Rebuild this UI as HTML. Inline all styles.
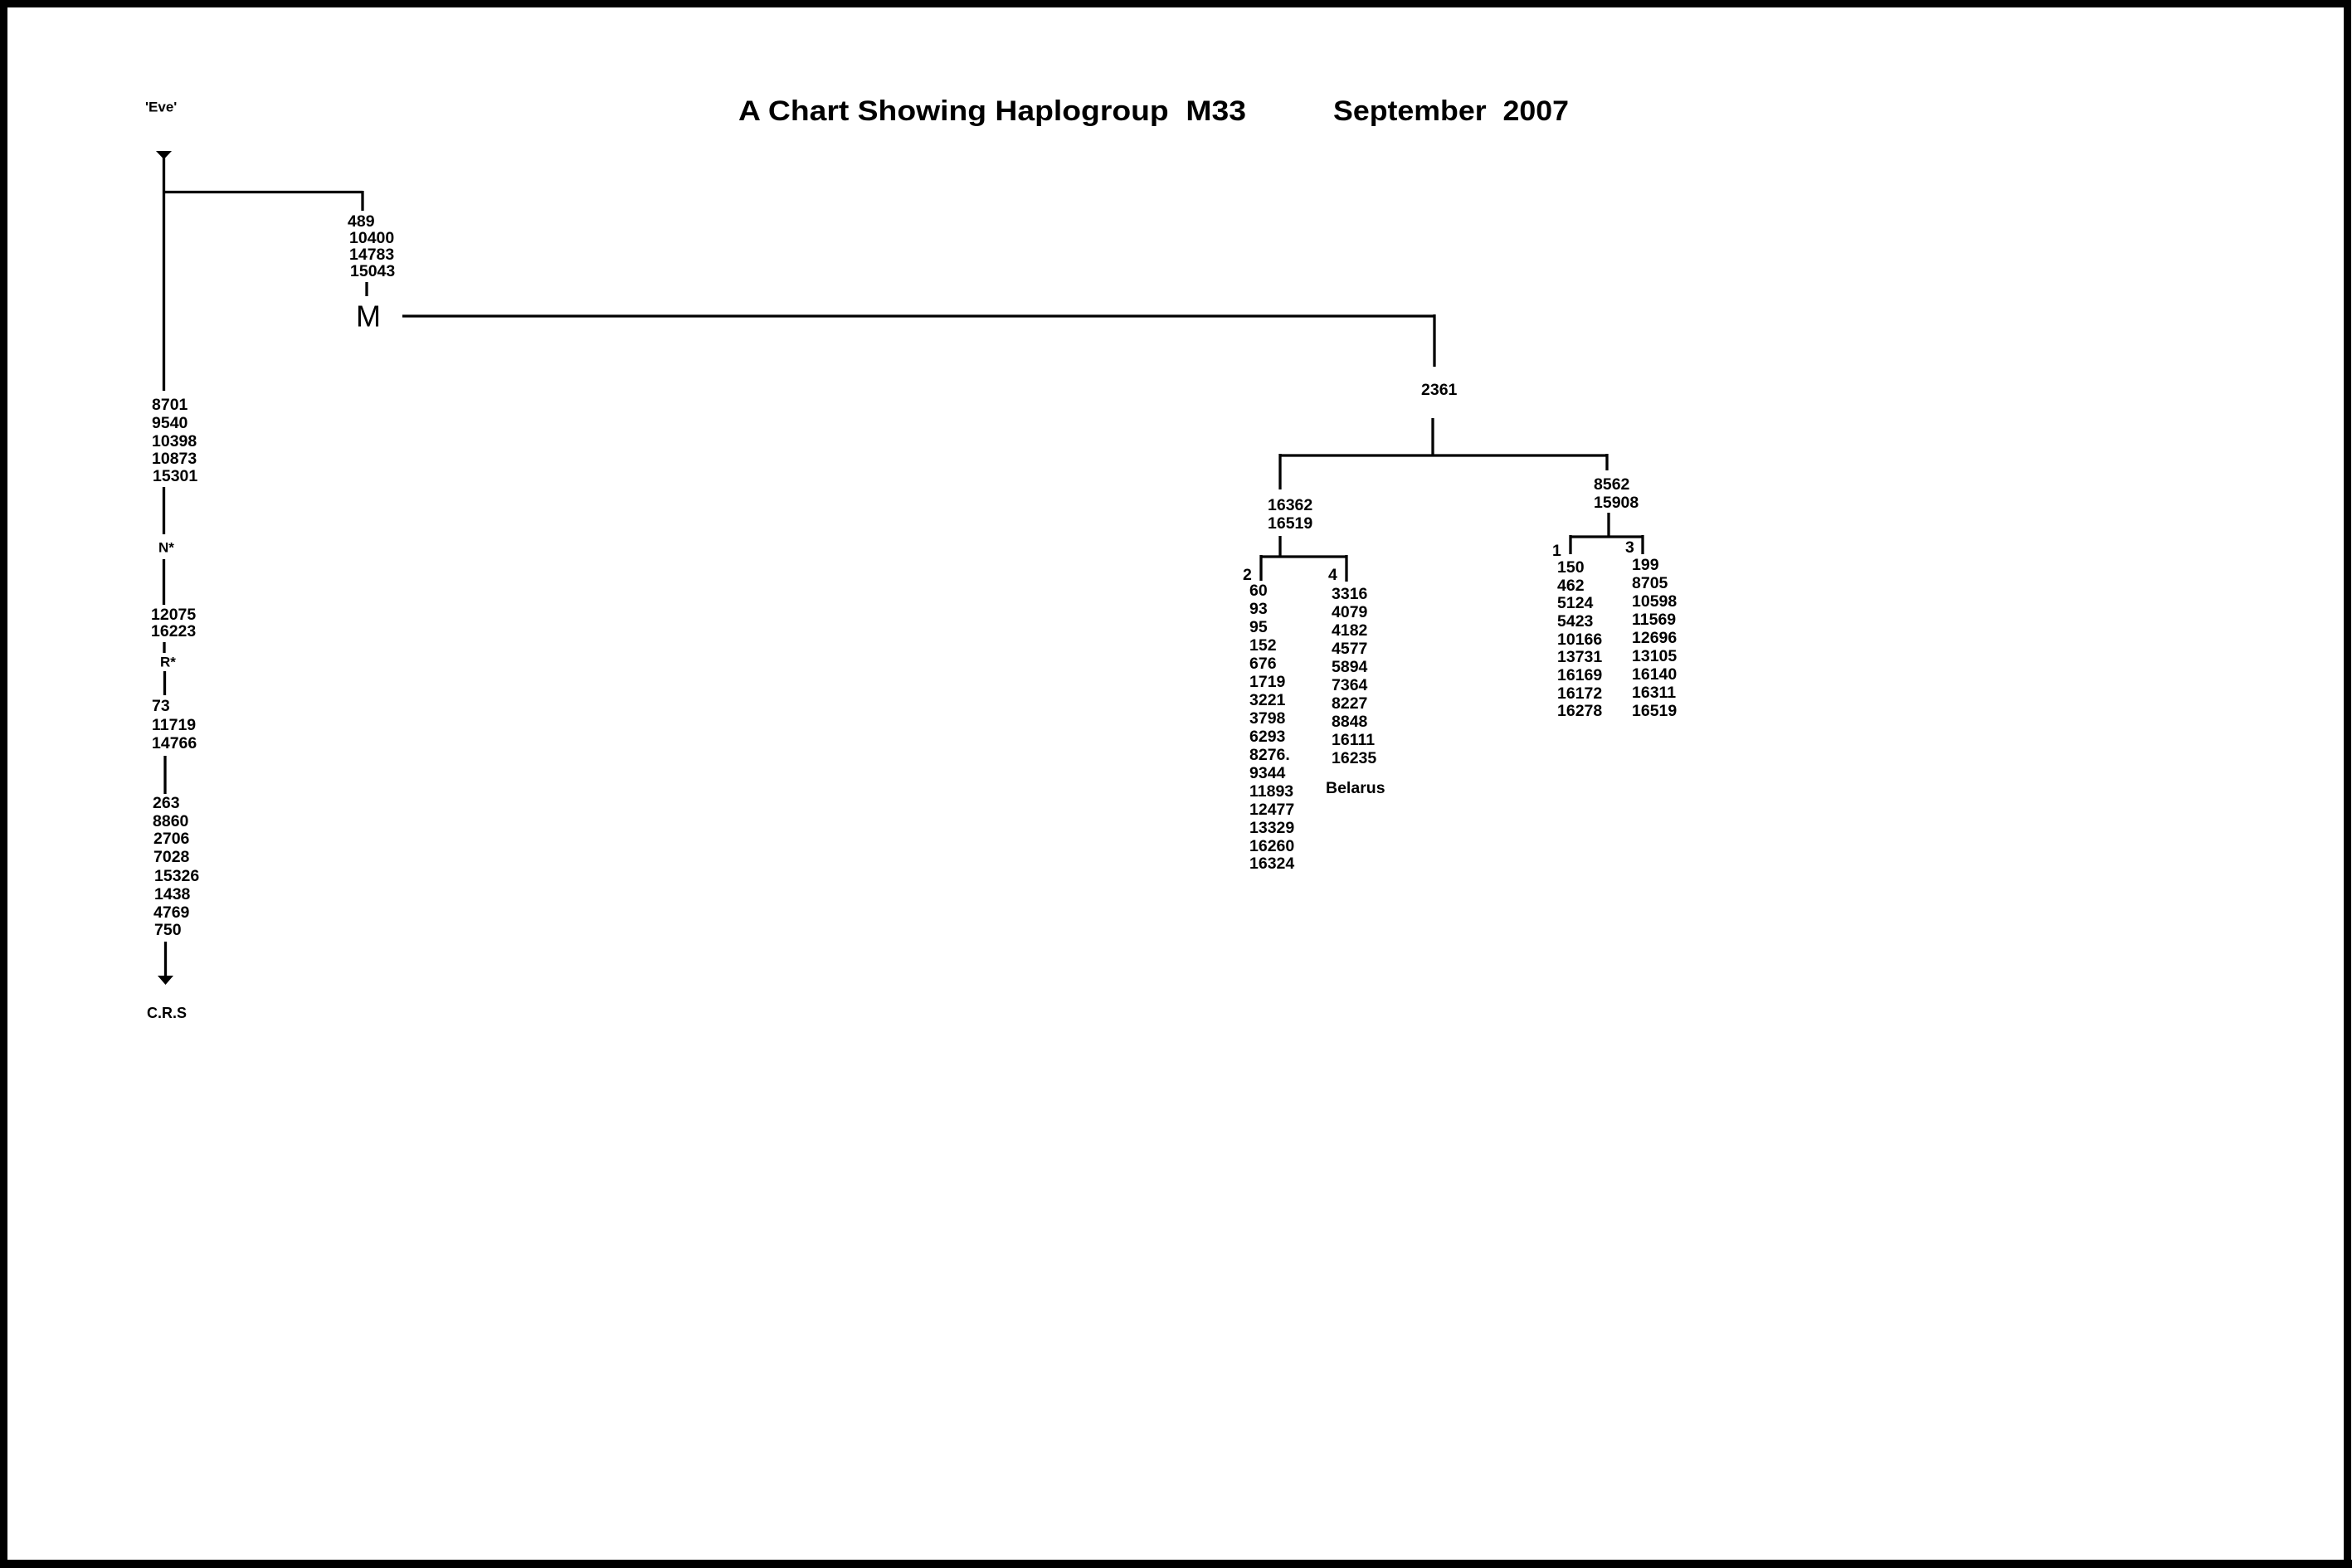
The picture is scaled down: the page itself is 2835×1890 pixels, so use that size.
<!DOCTYPE html>
<html><head><meta charset="utf-8"><style>
html,body{margin:0;padding:0;background:#fff}
svg{display:block}
text{font-family:"Liberation Sans",Arial,sans-serif;font-weight:bold;fill:#000;white-space:pre}
</style></head><body>
<svg width="2835" height="1890" viewBox="0 0 2835 1890" xmlns="http://www.w3.org/2000/svg" xml:space="preserve">
<rect x="0" y="0" width="2835" height="1890" fill="#fff"/>
<rect x="4.5" y="4.5" width="2825" height="1880" fill="none" stroke="#000" stroke-width="9"/>
<rect x="0" y="1880" width="2835" height="10" fill="#000"/>

<text x="890" y="134" font-size="34" dominant-baseline="central" textLength="612" lengthAdjust="spacingAndGlyphs">A Chart Showing Haplogroup  M33</text>
<text x="1607" y="134" font-size="34" dominant-baseline="central" textLength="284" lengthAdjust="spacingAndGlyphs">September  2007</text>

<g stroke="#000" stroke-width="3.3" fill="none">
<line x1="197.5" y1="184" x2="197.5" y2="471"/>
<line x1="197.5" y1="231.5" x2="437" y2="231.5"/>
<line x1="437" y1="230" x2="437" y2="254"/>
<line x1="442" y1="340" x2="442" y2="357"/>
<line x1="485" y1="381" x2="1729" y2="381"/>
<line x1="1729" y1="379" x2="1729" y2="442"/>
<line x1="1727" y1="504" x2="1727" y2="549"/>
<line x1="1543" y1="549" x2="1938" y2="549"/>
<line x1="1543" y1="547" x2="1543" y2="590"/>
<line x1="1937" y1="547" x2="1937" y2="567"/>
<line x1="1543" y1="646" x2="1543" y2="671"/>
<line x1="1520" y1="671" x2="1623" y2="671"/>
<line x1="1520" y1="669" x2="1520" y2="700"/>
<line x1="1623" y1="669" x2="1623" y2="701"/>
<line x1="1939" y1="618" x2="1939" y2="647"/>
<line x1="1893" y1="647" x2="1981" y2="647"/>
<line x1="1893" y1="645" x2="1893" y2="668"/>
<line x1="1980" y1="645" x2="1980" y2="668"/>
<line x1="197.5" y1="587" x2="197.5" y2="644"/>
<line x1="197.5" y1="674" x2="197.5" y2="729"/>
<line x1="198" y1="774" x2="198" y2="787"/>
<line x1="198.5" y1="809" x2="198.5" y2="838"/>
<line x1="199" y1="911" x2="199" y2="957"/>
<line x1="199.5" y1="1135" x2="199.5" y2="1178"/>
</g>
<polygon points="188,182 207,182 197.5,192" fill="#000"/>
<polygon points="190,1176 209,1176 199.5,1187" fill="#000"/>

<g font-size="17">
<text x="175" y="129" dominant-baseline="central">'Eve'</text>
<text x="191" y="660" dominant-baseline="central">N*</text>
<text x="193" y="798" dominant-baseline="central">R*</text>
<text x="177" y="1221" font-size="18" dominant-baseline="central">C.R.S</text>
</g>

<text x="429" y="381" font-size="36" style="font-weight:normal" dominant-baseline="central">M</text>

<g font-size="19.5">
<text x="419" y="267" dominant-baseline="central">489</text>
<text x="421" y="287" dominant-baseline="central">10400</text>
<text x="421" y="307" dominant-baseline="central">14783</text>
<text x="422" y="327" dominant-baseline="central">15043</text>

<text x="183" y="488" dominant-baseline="central">8701</text>
<text x="183" y="510" dominant-baseline="central">9540</text>
<text x="183" y="532" dominant-baseline="central">10398</text>
<text x="183" y="553" dominant-baseline="central">10873</text>
<text x="184" y="574" dominant-baseline="central">15301</text>

<text x="182" y="741" dominant-baseline="central">12075</text>
<text x="182" y="761" dominant-baseline="central">16223</text>

<text x="183" y="851" dominant-baseline="central">73</text>
<text x="183" y="874" dominant-baseline="central">11719</text>
<text x="183" y="896" dominant-baseline="central">14766</text>

<text x="184" y="968" dominant-baseline="central">263</text>
<text x="184" y="990" dominant-baseline="central">8860</text>
<text x="185" y="1011" dominant-baseline="central">2706</text>
<text x="185" y="1033" dominant-baseline="central">7028</text>
<text x="186" y="1056" dominant-baseline="central">15326</text>
<text x="186" y="1078" dominant-baseline="central">1438</text>
<text x="185" y="1100" dominant-baseline="central">4769</text>
<text x="186" y="1121" dominant-baseline="central">750</text>

<text x="1713" y="470" dominant-baseline="central">2361</text>
<text x="1528" y="609" dominant-baseline="central">16362</text>
<text x="1528" y="631" dominant-baseline="central">16519</text>
<text x="1921" y="584" dominant-baseline="central">8562</text>
<text x="1921" y="606" dominant-baseline="central">15908</text>

<text x="1498" y="693" dominant-baseline="central">2</text>
<text x="1601" y="693" dominant-baseline="central">4</text>
<text x="1871" y="664" dominant-baseline="central">1</text>
<text x="1959" y="660" dominant-baseline="central">3</text>

<text x="1506" y="712" dominant-baseline="central">60</text>
<text x="1506" y="734" dominant-baseline="central">93</text>
<text x="1506" y="756" dominant-baseline="central">95</text>
<text x="1506" y="778" dominant-baseline="central">152</text>
<text x="1506" y="800" dominant-baseline="central">676</text>
<text x="1506" y="822" dominant-baseline="central">1719</text>
<text x="1506" y="844" dominant-baseline="central">3221</text>
<text x="1506" y="866" dominant-baseline="central">3798</text>
<text x="1506" y="888" dominant-baseline="central">6293</text>
<text x="1506" y="910" dominant-baseline="central">8276.</text>
<text x="1506" y="932" dominant-baseline="central">9344</text>
<text x="1506" y="954" dominant-baseline="central">11893</text>
<text x="1506" y="976" dominant-baseline="central">12477</text>
<text x="1506" y="998" dominant-baseline="central">13329</text>
<text x="1506" y="1020" dominant-baseline="central">16260</text>
<text x="1506" y="1041" dominant-baseline="central">16324</text>

<text x="1605" y="716" dominant-baseline="central">3316</text>
<text x="1605" y="738" dominant-baseline="central">4079</text>
<text x="1605" y="760" dominant-baseline="central">4182</text>
<text x="1605" y="782" dominant-baseline="central">4577</text>
<text x="1605" y="804" dominant-baseline="central">5894</text>
<text x="1605" y="826" dominant-baseline="central">7364</text>
<text x="1605" y="848" dominant-baseline="central">8227</text>
<text x="1605" y="870" dominant-baseline="central">8848</text>
<text x="1605" y="892" dominant-baseline="central">16111</text>
<text x="1605" y="914" dominant-baseline="central">16235</text>
<text x="1598" y="950" dominant-baseline="central">Belarus</text>

<text x="1877" y="684" dominant-baseline="central">150</text>
<text x="1877" y="706" dominant-baseline="central">462</text>
<text x="1877" y="727" dominant-baseline="central">5124</text>
<text x="1877" y="749" dominant-baseline="central">5423</text>
<text x="1877" y="771" dominant-baseline="central">10166</text>
<text x="1877" y="792" dominant-baseline="central">13731</text>
<text x="1877" y="814" dominant-baseline="central">16169</text>
<text x="1877" y="836" dominant-baseline="central">16172</text>
<text x="1877" y="857" dominant-baseline="central">16278</text>

<text x="1967" y="681" dominant-baseline="central">199</text>
<text x="1967" y="703" dominant-baseline="central">8705</text>
<text x="1967" y="725" dominant-baseline="central">10598</text>
<text x="1967" y="747" dominant-baseline="central">11569</text>
<text x="1967" y="769" dominant-baseline="central">12696</text>
<text x="1967" y="791" dominant-baseline="central">13105</text>
<text x="1967" y="813" dominant-baseline="central">16140</text>
<text x="1967" y="835" dominant-baseline="central">16311</text>
<text x="1967" y="857" dominant-baseline="central">16519</text>
</g>
</svg>
</body></html>
